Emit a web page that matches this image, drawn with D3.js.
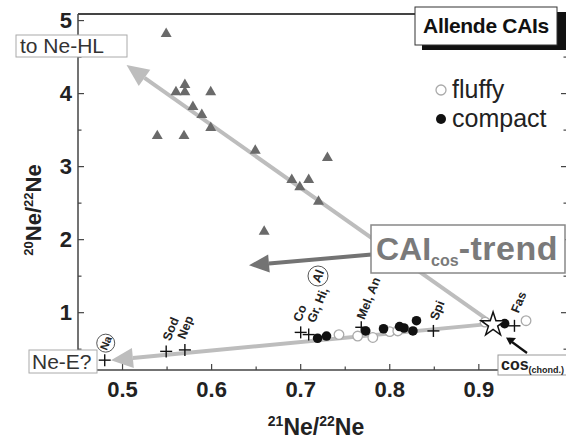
<!DOCTYPE html>
<html>
<head>
<meta charset="utf-8">
<script src="https://d3js.org/d3.v7.min.js"></script>
<style>
  body { margin: 0; background: #ffffff; }
  svg { display: block; font-family: "Liberation Sans", Arial, sans-serif; }
</style>
</head>
<body>
<script>
// Data: [21Ne/22Ne, 20Ne/22Ne]
var triangles = [
  [0.549, 4.82], [0.570, 4.12], [0.560, 4.02], [0.570, 4.02], [0.599, 4.02],
  [0.579, 3.82], [0.589, 3.71], [0.599, 3.53], [0.539, 3.42], [0.569, 3.42],
  [0.649, 3.22], [0.730, 3.12], [0.690, 2.82], [0.709, 2.82], [0.699, 2.72],
  [0.720, 2.52], [0.659, 2.11]
];
var compact = [
  [0.719, 0.65], [0.729, 0.68], [0.773, 0.75], [0.793, 0.78], [0.811, 0.81],
  [0.816, 0.79], [0.826, 0.75], [0.830, 0.89], [0.929, 0.85]
];
var fluffy = [
  [0.743, 0.70], [0.764, 0.68], [0.781, 0.66], [0.800, 0.74], [0.809, 0.75],
  [0.907, 0.87], [0.953, 0.89]
];
var crossNames = ["Na", "Sod", "Nep", "Co", "Gr, Hi,", "Mel, An", "Spi", "Fas"];
var crossX = [0.480, 0.549, 0.570, 0.700, 0.709, 0.768, 0.849, 0.940];
var crossY = [0.35, 0.47, 0.49, 0.73, 0.70, 0.80, 0.75, 0.82];
var cosStar = [0.916, 0.85];
// trend arrows: [from, to]
var arrowHL = [[0.916, 0.85], [0.5045, 4.39]];
var arrowE = [[0.916, 0.85], [0.487, 0.35]];
var arrowCAI = [[0.783, 1.80], [0.642, 1.65]];
var xTicks = [0.5, 0.6, 0.7, 0.8, 0.9];
var yTicks = [1, 2, 3, 4, 5];
var xMinor = [0.45, 0.55, 0.65, 0.75, 0.85, 0.95];
var yMinor = [0.5, 1.5, 2.5, 3.5, 4.5];

var w = 566, h = 444;
var pLeft = 78, pRight = 567, pTop = 14, pBottom = 370;

var x = d3.scaleLinear().domain([0.45, 0.99]).range([pLeft, 559]);
var y = d3.scaleLinear().domain([0.215, 5.09]).range([pBottom, pTop]);

var svg = d3.select("body").append("svg")
  .attr("width", w).attr("height", h);

// frame
svg.append("line").attr("x1", pLeft).attr("x2", pLeft).attr("y1", pTop).attr("y2", pBottom)
  .attr("stroke", "#444").attr("stroke-width", 1.5);
svg.append("line").attr("x1", pLeft).attr("x2", pRight).attr("y1", pBottom).attr("y2", pBottom)
  .attr("stroke", "#444").attr("stroke-width", 1.5);
svg.append("line").attr("x1", pLeft).attr("x2", 420).attr("y1", pTop).attr("y2", pTop)
  .attr("stroke", "#444").attr("stroke-width", 2);
svg.append("line").attr("x1", pRight).attr("x2", pRight).attr("y1", pTop).attr("y2", pBottom)
  .attr("stroke", "#444").attr("stroke-width", 1.5);

// ticks (inward)
var tk = svg.append("g").attr("stroke", "#444").attr("stroke-width", 1.2);
xTicks.forEach(function(d) {
  tk.append("line").attr("x1", x(d)).attr("x2", x(d)).attr("y1", pBottom).attr("y2", pBottom - 6);
});
xMinor.forEach(function(d) {
  tk.append("line").attr("x1", x(d)).attr("x2", x(d)).attr("y1", pBottom).attr("y2", pBottom - 3.5);
});
yTicks.forEach(function(d) {
  tk.append("line").attr("x1", pLeft).attr("x2", pLeft + 6).attr("y1", y(d)).attr("y2", y(d));
  tk.append("line").attr("x1", pRight).attr("x2", pRight - 6).attr("y1", y(d)).attr("y2", y(d));
});
yMinor.forEach(function(d) {
  tk.append("line").attr("x1", pLeft).attr("x2", pLeft + 3.5).attr("y1", y(d)).attr("y2", y(d));
  tk.append("line").attr("x1", pRight).attr("x2", pRight - 3.5).attr("y1", y(d)).attr("y2", y(d));
});

// tick labels
svg.selectAll(".xl").data(xTicks).enter().append("text")
  .attr("x", function(d) { return x(d); }).attr("y", 397)
  .attr("text-anchor", "middle").attr("font-size", 22).attr("font-weight", "bold")
  .attr("fill", "#222").text(function(d) { return d3.format(".1f")(d); });
svg.selectAll(".yl").data(yTicks).enter().append("text")
  .attr("x", 72).attr("y", function(d) { return y(d) + 7.5; })
  .attr("text-anchor", "end").attr("font-size", 22).attr("font-weight", "bold")
  .attr("fill", "#222").text(function(d) { return d; });

// axis titles
var xt = svg.append("text").attr("x", 316).attr("y", 435).attr("text-anchor", "middle")
  .attr("font-size", 23).attr("font-weight", "bold").attr("fill", "#222");
xt.append("tspan").attr("font-size", 14).attr("dy", -9).text("21");
xt.append("tspan").attr("dy", 9).text("Ne/");
xt.append("tspan").attr("font-size", 14).attr("dy", -9).text("22");
xt.append("tspan").attr("dy", 9).text("Ne");

var yt = svg.append("text").attr("transform", "translate(41,210) rotate(-90)")
  .attr("text-anchor", "middle")
  .attr("font-size", 22).attr("font-weight", "bold").attr("fill", "#222");
yt.append("tspan").attr("font-size", 13).attr("dy", -8).text("20");
yt.append("tspan").attr("dy", 8).text("Ne/");
yt.append("tspan").attr("font-size", 13).attr("dy", -8).text("22");
yt.append("tspan").attr("dy", 8).text("Ne");

// arrow helper
function arrow(g, p, color, width, headLen, headW) {
  var x1 = x(p[0][0]), y1 = y(p[0][1]), x2 = x(p[1][0]), y2 = y(p[1][1]);
  var a = Math.atan2(y2 - y1, x2 - x1);
  var bx = x2 - headLen * Math.cos(a), by = y2 - headLen * Math.sin(a);
  g.append("line").attr("x1", x1).attr("y1", y1).attr("x2", bx).attr("y2", by)
    .attr("stroke", color).attr("stroke-width", width);
  var px = -Math.sin(a) * headW / 2, py = Math.cos(a) * headW / 2;
  g.append("polygon")
    .attr("points", [[x2, y2], [bx + px, by + py], [bx - px, by - py]].join(" "))
    .attr("fill", color);
}

var arrows = svg.append("g");
arrow(arrows, arrowHL, "#bdbdbd", 4, 22, 20);
arrow(arrows, arrowE, "#bdbdbd", 4, 22, 20);

// triangles
svg.append("g").selectAll("path").data(triangles).enter().append("path")
  .attr("d", d3.symbol().type(d3.symbolTriangle).size(52))
  .attr("transform", function(d) { return "translate(" + x(d[0]) + "," + y(d[1]) + ")"; })
  .attr("fill", "#6a6a6a");

// crosses
var cr = svg.append("g").attr("stroke", "#111").attr("stroke-width", 1.4);
crossX.forEach(function(cx, i) {
  var px = x(cx), py = y(crossY[i]);
  cr.append("line").attr("x1", px - 6).attr("x2", px + 6).attr("y1", py).attr("y2", py);
  cr.append("line").attr("x1", px).attr("x2", px).attr("y1", py - 6).attr("y2", py + 6);
});

// fluffy and compact CAIs
svg.append("g").selectAll("circle").data(fluffy).enter().append("circle")
  .attr("cx", function(d) { return x(d[0]); }).attr("cy", function(d) { return y(d[1]); })
  .attr("r", 4.8).attr("fill", "#fff").attr("stroke", "#aaa").attr("stroke-width", 1.3);
svg.append("g").selectAll("circle").data(compact).enter().append("circle")
  .attr("cx", function(d) { return x(d[0]); }).attr("cy", function(d) { return y(d[1]); })
  .attr("r", 4.8).attr("fill", "#111");

// cos star
svg.append("path").attr("d", d3.symbol().type(d3.symbolStar).size(180))
  .attr("transform", "translate(" + x(cosStar[0]) + "," + (y(cosStar[1]) + 1) + ")")
  .attr("fill", "#fff").attr("stroke", "#111").attr("stroke-width", 1.5);

// mineral labels (rotated)
var labOff = {"Sod": [4, -10], "Nep": [0, -10], "Co": [0, -10], "Gr, Hi,": [6, -11],
  "Mel, An": [3, -7], "Spi": [4, -10], "Fas": [4, -12]};
crossNames.forEach(function(n, i) {
  if (!labOff[n]) return;
  svg.append("text")
    .attr("transform", "translate(" + (x(crossX[i]) + labOff[n][0]) + "," + (y(crossY[i]) + labOff[n][1]) + ") rotate(-68)")
    .attr("font-size", 12.5).attr("font-weight", "bold")
    .attr("fill", "#222").text(n);
});
// circled labels
function circled(cx, cy, r, t, fs) {
  svg.append("circle").attr("cx", cx).attr("cy", cy).attr("r", r)
    .attr("fill", "#fff").attr("stroke", "#555").attr("stroke-width", 1);
  svg.append("text").attr("transform", "translate(" + cx + "," + cy + ") rotate(-68)")
    .attr("text-anchor", "middle").attr("dy", "0.35em")
    .attr("font-size", fs).attr("font-weight", "bold")
    .attr("fill", "#222").text(t);
}
circled(x(crossX[0]) + 1, y(crossY[0]) - 17, 9, "Na", 11);
circled(318, 276, 10, "Al", 12.5);

// CAIcos trend arrow and box
var arrows2 = svg.append("g");
arrow(arrows2, arrowCAI, "#737373", 4, 20, 18);
svg.append("rect").attr("x", 371).attr("y", 225).attr("width", 194).attr("height", 48)
  .attr("fill", "#fff").attr("stroke", "#888").attr("stroke-width", 1.5);
var ct = svg.append("text").attr("x", 376).attr("y", 260)
  .attr("font-size", 32).attr("font-weight", "bold").attr("fill", "#7a7a7a");
ct.append("tspan").text("CAI");
ct.append("tspan").attr("font-size", 16).attr("dy", 6).text("cos");
ct.append("tspan").attr("dy", -6).attr("font-size", 34).attr("letter-spacing", 0.5).text("-trend");

// cos(chond.) box and arrow
svg.append("line").attr("x1", 527).attr("y1", 353).attr("x2", 512).attr("y2", 342)
  .attr("stroke", "#111").attr("stroke-width", 2.2);
svg.append("polygon").attr("points", "506,337.5 516,338 510,345").attr("fill", "#111");
svg.append("rect").attr("x", 498).attr("y", 355).attr("width", 70).attr("height", 20)
  .attr("fill", "#fff").attr("stroke", "#999").attr("stroke-width", 1);
var cb = svg.append("text").attr("x", 501).attr("y", 370)
  .attr("font-size", 16).attr("font-weight", "bold").attr("fill", "#222");
cb.append("tspan").text("cos");
cb.append("tspan").attr("font-size", 9).attr("dy", 3).text("(chond.)");

// end labels
svg.append("rect").attr("x", 16).attr("y", 35).attr("width", 111).attr("height", 22)
  .attr("fill", "#fff").attr("stroke", "#aaa").attr("stroke-width", 1);
svg.append("text").attr("x", 20).attr("y", 53).attr("font-size", 21).attr("fill", "#333")
  .text("to Ne-HL");
svg.append("rect").attr("x", 29).attr("y", 350).attr("width", 68).attr("height", 23)
  .attr("fill", "#fff").attr("stroke", "#aaa").attr("stroke-width", 1);
svg.append("text").attr("x", 32).attr("y", 369).attr("font-size", 21).attr("fill", "#333")
  .text("Ne-E?");

// Allende CAIs title box with shadow
svg.append("rect").attr("x", 422).attr("y", 12).attr("width", 150).attr("height", 38).attr("fill", "#111");
svg.append("rect").attr("x", 415).attr("y", 7).attr("width", 142).attr("height", 38)
  .attr("fill", "#fff").attr("stroke", "#333").attr("stroke-width", 1);
svg.append("text").attr("x", 486).attr("y", 33).attr("text-anchor", "middle")
  .attr("font-size", 21).attr("font-weight", "bold").attr("letter-spacing", -0.3)
  .attr("fill", "#111").text("Allende CAIs");

// legend
svg.append("circle").attr("cx", 441).attr("cy", 90).attr("r", 5)
  .attr("fill", "#fff").attr("stroke", "#aaa").attr("stroke-width", 1.3);
svg.append("text").attr("x", 452).attr("y", 98).attr("font-size", 25).attr("fill", "#222").text("fluffy");
svg.append("circle").attr("cx", 441).attr("cy", 119).attr("r", 5).attr("fill", "#111");
svg.append("text").attr("x", 452).attr("y", 127).attr("font-size", 25).attr("fill", "#222").text("compact");
</script>
</body>
</html>
